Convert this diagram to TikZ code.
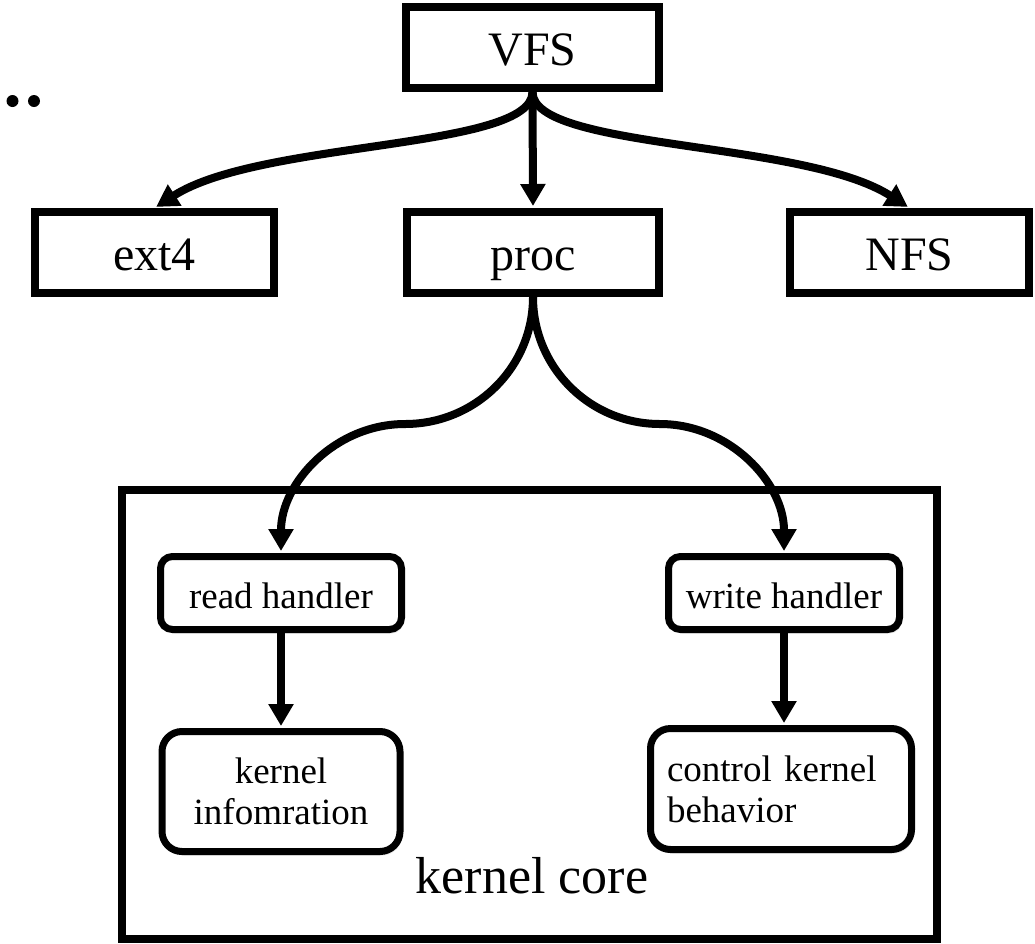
\documentclass[tikz,border=0pt]{standalone}
\usepackage{fontspec}
\setmainfont{Liberation Serif}
\usetikzlibrary{arrows.meta,shadows}
\begin{document}
\begin{tikzpicture}[x=1pt,y=1pt,
  shad/.style={drop shadow={shadow xshift=2pt, shadow yshift=-4pt, opacity=0.18}},
  box/.style={draw, fill=white, shad, line width=8pt, rectangle, inner sep=0pt, minimum height=81pt, text height=35pt, text depth=0pt, font=\fontsize{48}{52}\selectfont},
  rbox/.style={draw, fill=white, shad, line width=7pt, rounded corners=12pt, inner sep=0pt, font=\fontsize{37}{41}\selectfont},
  oneline/.style={text height=30pt, text depth=0pt},
  arr/.style={line width=8pt, -{Triangle[width=24pt,length=22pt]}, shorten >=2pt},
  dotmark/.style={fill, circle, inner sep=0pt, minimum size=12pt},
]
\useasboundingbox (0,0) rectangle (1035,-943);

% top level
\node[box, minimum width=253pt] (vfs) at (532.5,-47.5) {VFS};
\node[box, minimum width=239pt] (ext4) at (154.5,-252.5) {ext4};
\node[box, minimum width=252pt] (proc) at (533,-252.5) {proc};
\node[box, minimum width=239pt] (nfs) at (909.5,-252.5) {NFS};

% dots
\node[dotmark] (d1) at (12.5,-101) {};
\node[dotmark] (d2) at (34,-101) {};

% kernel core container
\node[draw, fill=white, shad, line width=8pt, inner sep=0pt, minimum width=815pt, minimum height=449pt] (core) at (529.5,-714.5) {};
\node[font=\fontsize{52}{56}\selectfont, inner sep=0pt] (corelabel) at (532,-876) {kernel core};

% handlers
\node[rbox, oneline, minimum width=241pt, minimum height=73pt] (rh) at (281,-593) {read handler};
\node[rbox, oneline, minimum width=231pt, minimum height=73pt] (wh) at (784,-593) {write handler};
\node[rbox, rounded corners=20pt, minimum width=238pt, minimum height=120pt, align=center] (ki) at (281,-791.5) {kernel\\infomration};
\node[rbox, rounded corners=20pt, text width=228pt, inner xsep=16.5pt, minimum height=121pt, align=left] (ck) at (781,-789) {control kernel\\behavior};

% connectors
\draw[arr] (vfs.south) -- (proc.north);
\draw[arr] (vfs.south) .. controls +(0,-58) and +(106,68) .. (ext4.north);
\draw[arr] (vfs.south) .. controls +(0,-58) and +(-106,68) .. (nfs.north);

\coordinate (pl) at (405,-424);
\coordinate (pr) at (660,-424);
\draw[arr] (proc.south) to[out=-90,in=0] (pl) to[out=180,in=90] (rh.north);
\draw[arr] (proc.south) to[out=-90,in=180] (pr) to[out=0,in=90] (wh.north);

\draw[arr] (rh.south) -- (ki.north);
\draw[arr] (wh.south) -- (wh.south |- ck.north);
\end{tikzpicture}
\end{document}
